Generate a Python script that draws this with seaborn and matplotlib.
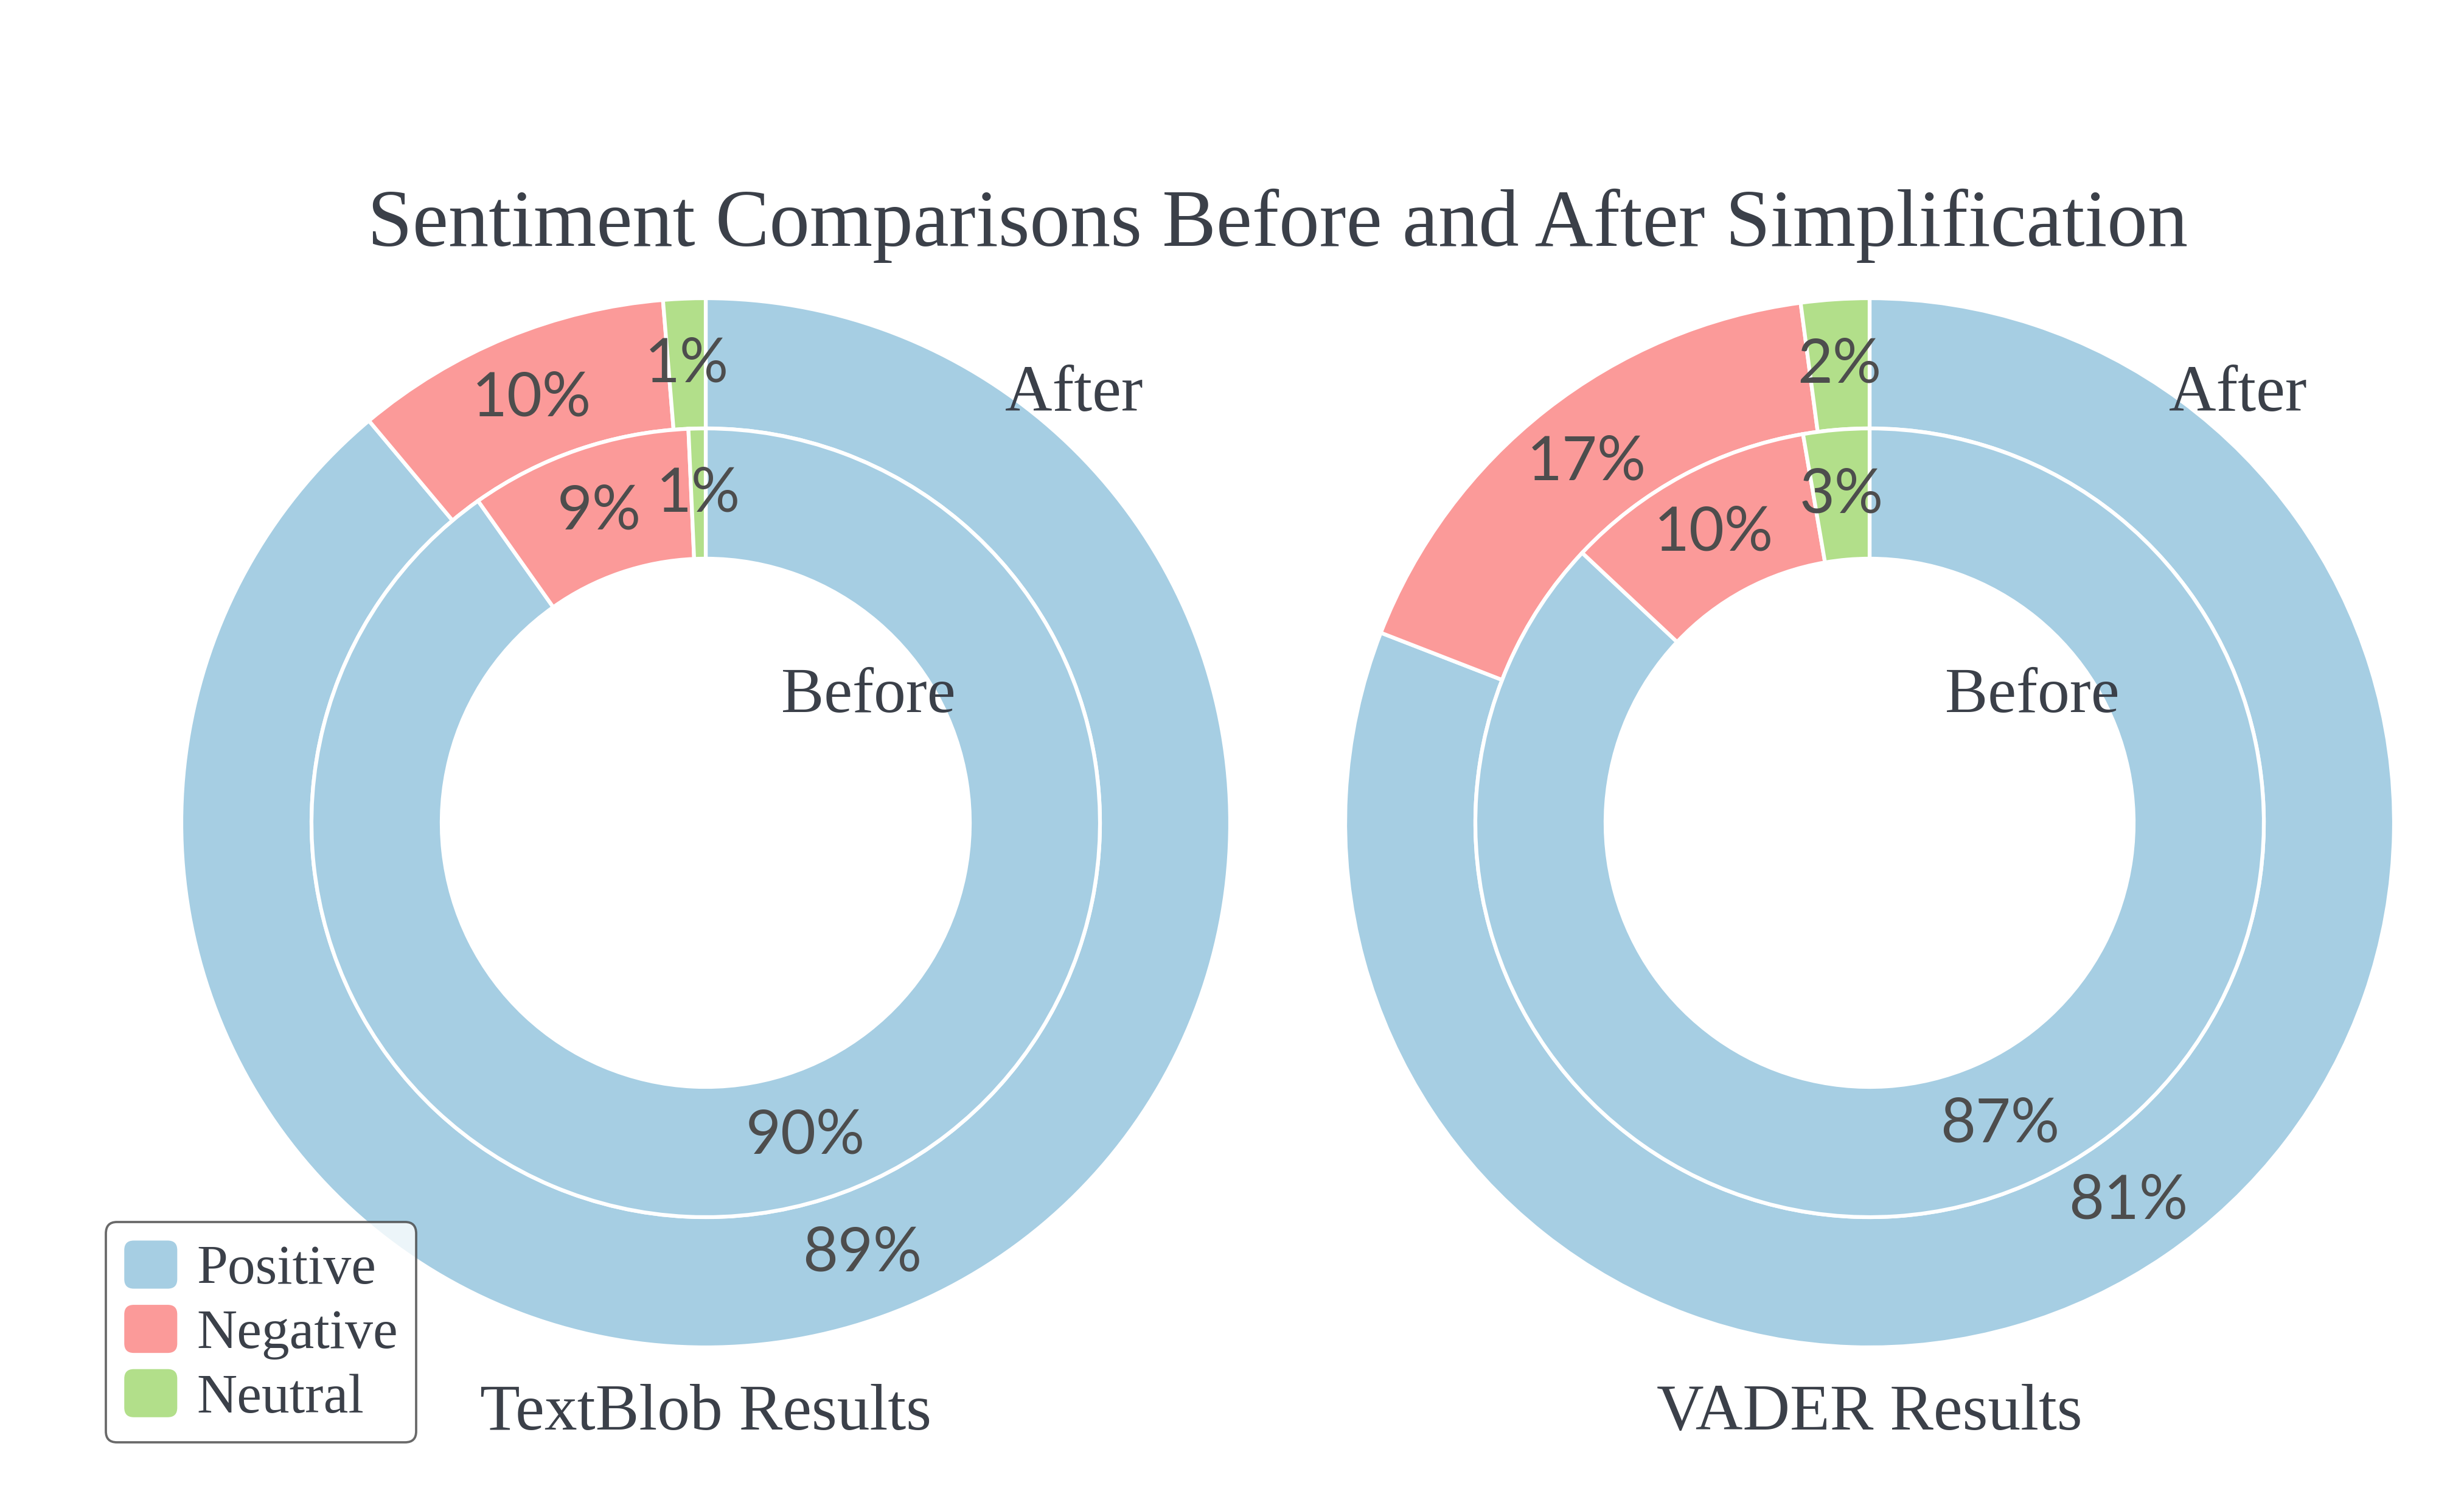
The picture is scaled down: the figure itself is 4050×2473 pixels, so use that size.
import matplotlib
matplotlib.use('Agg')
import matplotlib.pyplot as plt
import seaborn as sns
from matplotlib.patches import Patch, FancyBboxPatch
from matplotlib.legend_handler import HandlerPatch

# data (percent of texts)
sentiments = ['Positive', 'Negative', 'Neutral']
textblob_before = [90.2, 9.1, 0.7]
textblob_after = [88.9, 9.8, 1.3]
vader_before = [87.0, 10.3, 2.7]
vader_after = [80.9, 17.0, 2.1]
panel_titles = ['TextBlob Results', 'VADER Results']
chart_title = 'Sentiment Comparisons Before and After Simplification'

sns.set_theme(style='white')
plt.rcParams['font.family'] = ['Liberation Serif', 'DejaVu Serif']

palette = sns.color_palette('Paired')
colors = [palette[0], palette[4], palette[2]]
text_color = '#3b4049'
pct_color = '#4d4d4d'

# canvas in pixel units
W, H = 4050, 2473
fig = plt.figure(figsize=(W / 300, H / 300), dpi=300)
ax = fig.add_axes([0, 0, 1, 1])

r_out, r_mid, r_hole = 862, 648, 434
centers = [(1160, 1121), (3073, 1121)]
panels = [(textblob_before, textblob_after), (vader_before, vader_after)]

for (cx, cy), (before, after), name in zip(centers, panels, panel_titles):
    common = dict(startangle=90, counterclock=False, colors=colors,
                  autopct='%.0f%%', center=(cx, cy), frame=True,
                  textprops=dict(fontsize=24, color=pct_color, family=['Lato', 'DejaVu Sans']))
    # outer ring = after, inner ring = before
    ax.pie(after, radius=r_out, pctdistance=0.874,
           wedgeprops=dict(width=r_out - r_mid, edgecolor='white', linewidth=1.5),
           **common)
    ax.pie(before, radius=r_mid, pctdistance=0.834,
           wedgeprops=dict(width=r_mid - r_hole, edgecolor='white', linewidth=1.5),
           **common)
    ax.text(cx + 605, cy + 677, 'After', fontsize=25.8, color=text_color,
            ha='center', va='baseline')
    ax.text(cx + 267, cy + 182, 'Before', fontsize=25.3, color=text_color,
            ha='center', va='baseline')
    ax.text(cx, 124, name, fontsize=25.8, color=text_color, ha='center', va='baseline')

ax.text(2100, 2069, chart_title, fontsize=31.9, color=text_color,
        ha='center', va='baseline')

ax.set_xlim(0, W)
ax.set_ylim(0, H)
ax.set_aspect('equal', adjustable='box')
ax.axis('off')


def rounded_square(legend, orig_handle, xdescent, ydescent, width, height, fontsize):
    return FancyBboxPatch((-xdescent, -ydescent), width, height,
                          boxstyle='round,pad=0,rounding_size=%f' % (0.18 * width))


handles = [Patch(facecolor=c, edgecolor='none', label=s) for c, s in zip(colors, sentiments)]
leg = ax.legend(handles=handles, loc='lower left', bbox_to_anchor=(174, 103),
                bbox_transform=ax.transData, borderaxespad=0, fontsize=22,
                handlelength=0.95, handleheight=0.95, handletextpad=0.35,
                labelspacing=0.17, borderpad=0.33, frameon=True, fancybox=True,
                handler_map={Patch: HandlerPatch(patch_func=rounded_square)})
leg.get_frame().set_edgecolor('#444444')
leg.get_frame().set_linewidth(0.9)
for t in leg.get_texts():
    t.set_color(text_color)

fig.savefig('out.png', dpi=300, facecolor='white')
